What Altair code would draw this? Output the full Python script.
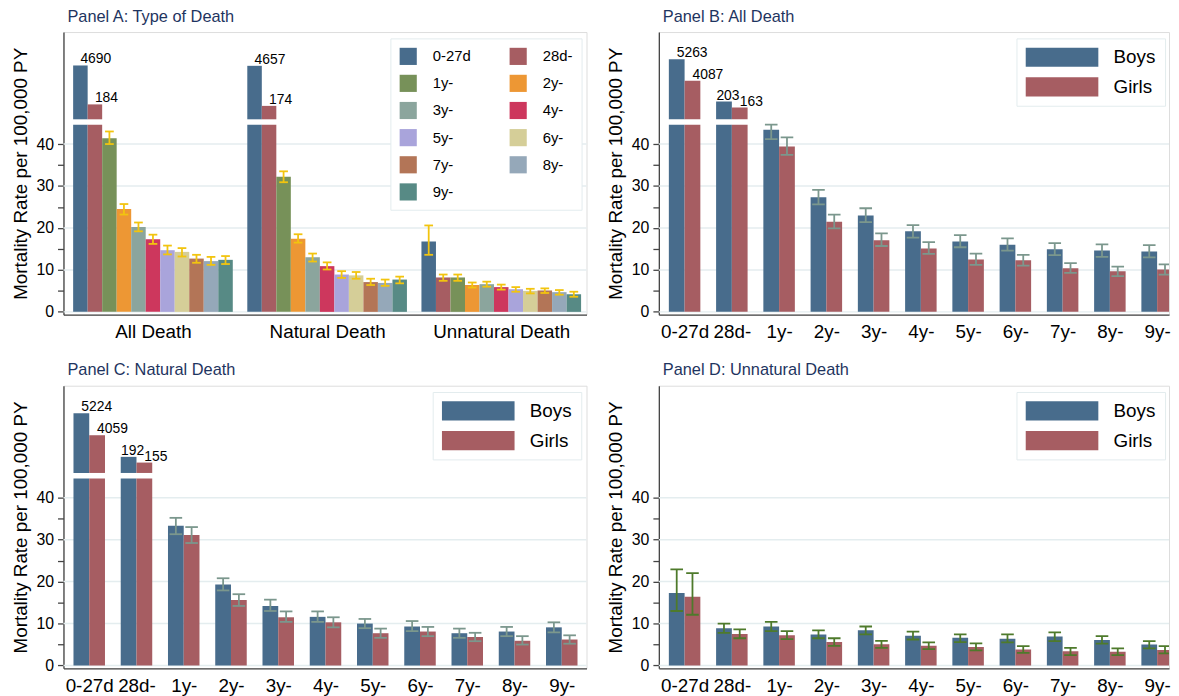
import json
import altair as alt
import pandas as pd

FONT = "Liberation Sans"

# ---------------- data ----------------
ages = ["0-27d", "28d-", "1y-", "2y-", "3y-", "4y-", "5y-", "6y-", "7y-", "8y-", "9y-"]
death_types = ["All Death", "Natural Death", "Unnatural Death"]
age_colors = ["#486c8c", "#a65d62", "#779159", "#ed9734", "#8ba59d", "#cd375d",
              "#a9a4db", "#d5ce98", "#b37557", "#95a8b9", "#578a85"]
sexes = ["Boys", "Girls"]
sex_colors = ["#486c8c", "#a65d62"]

# Panel A: type of death by age group
a_all = [4690, 184, 41.4, 24.5, 20.2, 17.3, 14.7, 14.3, 12.7, 12.1, 12.4]
a_all_lo = [None, None, 40.0, 23.2, 19.2, 16.2, 13.7, 13.2, 11.7, 11.2, 11.4]
a_all_hi = [None, None, 43.0, 25.7, 21.3, 18.4, 15.8, 15.2, 13.6, 13.1, 13.3]
a_nat = [4657, 174, 32.2, 17.4, 13.0, 10.9, 8.9, 8.7, 7.1, 6.9, 7.7]
a_nat_lo = [None, None, 30.9, 16.5, 12.0, 10.1, 8.1, 7.9, 6.4, 6.2, 6.8]
a_nat_hi = [None, None, 33.5, 18.5, 13.9, 11.8, 9.7, 9.5, 7.9, 7.7, 8.4]
a_unn = [16.8, 8.2, 8.2, 6.4, 6.6, 5.9, 5.4, 5.0, 5.1, 4.7, 4.2]
a_unn_lo = [13.6, 7.4, 7.4, 5.8, 6.0, 5.3, 4.8, 4.4, 4.5, 4.1, 3.6]
a_unn_hi = [20.6, 8.9, 8.9, 7.0, 7.2, 6.5, 5.9, 5.5, 5.6, 5.2, 4.8]

# Panel B: all death by sex
b_boys = [5263, 203, 43.4, 27.3, 23.0, 19.2, 16.8, 16.0, 14.9, 14.6, 14.4]
b_boys_lo = [None, None, 41.2, 25.6, 21.4, 17.7, 15.4, 14.6, 13.5, 13.1, 13.0]
b_boys_hi = [None, None, 45.6, 29.1, 24.7, 20.7, 18.3, 17.5, 16.4, 16.1, 15.9]
b_girls = [4087, 163, 39.4, 21.5, 17.1, 15.1, 12.5, 12.3, 10.4, 9.7, 10.1]
b_girls_lo = [None, None, 37.4, 19.9, 15.7, 13.8, 11.2, 11.0, 9.3, 8.5, 8.9]
b_girls_hi = [None, None, 41.6, 23.2, 18.7, 16.6, 13.9, 13.6, 11.6, 10.8, 11.3]

# Panel C: natural death by sex
c_boys = [5224, 192, 33.3, 19.3, 14.2, 11.6, 10.0, 9.3, 7.7, 8.1, 9.1]
c_boys_lo = [None, None, 31.3, 17.9, 13.0, 10.4, 8.9, 8.2, 6.6, 7.0, 7.9]
c_boys_hi = [None, None, 35.2, 20.8, 15.7, 12.9, 11.1, 10.6, 8.8, 9.2, 10.3]
c_girls = [4059, 155, 31.1, 15.6, 11.5, 10.3, 7.7, 8.1, 6.8, 5.9, 6.2]
c_girls_lo = [None, None, 29.2, 14.2, 10.4, 9.1, 6.6, 7.0, 5.8, 5.0, 5.2]
c_girls_hi = [None, None, 33.0, 17.0, 12.9, 11.5, 8.8, 9.2, 7.8, 7.0, 7.2]

# Panel D: unnatural death by sex
d_boys = [17.3, 8.9, 9.3, 7.4, 8.4, 7.1, 6.6, 6.4, 6.9, 6.1, 5.0]
d_boys_lo = [13.0, 7.8, 8.2, 6.5, 7.4, 6.2, 5.6, 5.5, 5.8, 5.2, 4.1]
d_boys_hi = [22.9, 10.0, 10.4, 8.4, 9.3, 8.1, 7.4, 7.4, 7.9, 7.0, 5.8]
d_girls = [16.4, 7.5, 7.2, 5.6, 5.1, 4.7, 4.4, 3.8, 3.4, 3.3, 3.7]
d_girls_lo = [12.1, 6.5, 6.3, 4.7, 4.2, 3.9, 3.6, 3.0, 2.5, 2.5, 2.9]
d_girls_hi = [22.0, 8.6, 8.2, 6.5, 5.9, 5.5, 5.3, 4.6, 4.2, 4.1, 4.6]

grid_values = [0, 10, 20, 30, 40]
tick_values = [0, 5, 10, 15, 20, 25, 30, 35, 40]

# ---------------- broken y axis (piecewise linear scale) ----------------
BREAK_LO, BREAK_HI = 44.6, 100
y_domain = [-0.66, 44.6, 100, 160, 205, 4000, 4600, 5300, 7000]
y_display = [-0.66, 44.6, 45.9, 48.6, 50.2, 54.5, 58.5, 60.3, 66.7]
PX = 4.235
H = (y_display[-1] - y_display[0]) * PX
y_range = [(y_display[-1] - d) * PX for d in y_display]
yscale = alt.Scale(domain=y_domain, range=y_range, nice=False, zero=False)

y_axis = alt.Axis(values=tick_values,
                  labelExpr="datum.value % 10 === 0 ? datum.label : ''",
                  grid=False, title="Mortality Rate per 100,000 PY",
                  titleFont=FONT, titleFontSize=19, titleFontWeight="normal",
                  titleColor="black", titlePadding=6,
                  labelFont=FONT, labelFontSize=16, labelColor="black",
                  labelPadding=4, tickSize=6, tickColor="#444",
                  tickWidth=1.3, domainColor="#444", domainWidth=1.3)


def x_axis(values, expr):
    return alt.Axis(values=values, labelExpr=expr, ticks=False, grid=False,
                    title=None, labelFont=FONT, labelFontSize=19,
                    labelColor="black", labelPadding=8, labelOverlap=False,
                    labelFlush=False, domainColor="#444", domainWidth=1.3)


def build_a():
    rows = []
    series = [(a_all, a_all_lo, a_all_hi), (a_nat, a_nat_lo, a_nat_hi),
              (a_unn, a_unn_lo, a_unn_hi)]
    for g, (vals, los, his) in enumerate(series):
        for j, age in enumerate(ages):
            rows.append(dict(g=g, j=j, age=age, value=vals[j], lo=los[j], hi=his[j]))
    return pd.DataFrame(rows)


def build_sex(boys, boys_lo, boys_hi, girls, girls_lo, girls_hi):
    rows = []
    for g, age in enumerate(ages):
        rows.append(dict(g=g, s=0, sex="Boys", value=boys[g], lo=boys_lo[g], hi=boys_hi[g]))
        rows.append(dict(g=g, s=1, sex="Girls", value=girls[g], lo=girls_lo[g], hi=girls_hi[g]))
    return pd.DataFrame(rows)


def panel(df, pos_expr, lab_expr, title, width, xdom, xax, color, err_color, cap_half, clip):
    xs = alt.Scale(domain=xdom, nice=False, zero=False)

    def X(f):
        return alt.X(f, type="quantitative", scale=xs, axis=xax)

    def Y(f):
        return alt.Y(f, type="quantitative", scale=yscale, axis=y_axis)

    base = alt.Chart(df).transform_calculate(
        pos=pos_expr).transform_calculate(
        x0="datum.pos - 0.5", x1="datum.pos + 0.5",
        c0=f"datum.pos - {cap_half}", c1=f"datum.pos + {cap_half}",
        lx=lab_expr,
        zero="0", lowtop=f"min(datum.value, {BREAK_LO})", ub=f"{BREAK_HI}",
        lab="format(datum.value, 'd')")

    grid = alt.Chart(pd.DataFrame({"gv": grid_values})).mark_rule(
        color="#e4edef", strokeWidth=1.5).encode(y=Y("gv"))

    lower = base.mark_rect(clip=clip).encode(
        x=X("x0"), x2="x1", y=Y("zero"), y2="lowtop:Q", color=color)
    upper = base.transform_filter(f"datum.value > {BREAK_HI}").mark_rect(clip=clip).encode(
        x=X("x0"), x2="x1", y=Y("ub"), y2="value:Q", color=color)

    err = base.transform_filter("isValid(datum.lo)")
    vline = err.mark_rule(color=err_color, strokeWidth=1.8, clip=clip).encode(
        x=X("pos"), y=Y("lo"), y2="hi:Q")
    cap_lo = err.mark_rule(color=err_color, strokeWidth=1.8, clip=clip).encode(
        x=X("c0"), x2="c1", y=Y("lo"))
    cap_hi = err.mark_rule(color=err_color, strokeWidth=1.8, clip=clip).encode(
        x=X("c0"), x2="c1", y=Y("hi"))

    labels = base.transform_filter(f"datum.value > {BREAK_HI}").mark_text(
        align="left", baseline="alphabetic", dx=0, dy=-2, font=FONT,
        fontSize=14, color="black").encode(x=X("lx"), y=Y("value"), text="lab:N")

    return alt.layer(grid, lower, upper, vline, cap_lo, cap_hi, labels).properties(
        width=width, height=H,
        title=alt.TitleParams(title, anchor="start", frame="group", dx=4, offset=7,
                              font=FONT, fontSize=16.5, fontWeight="normal",
                              color="#1e3460"))


# ---------------- legends ----------------
def age_legend():
    return alt.Legend(title=None, orient="none", legendX=330, legendY=6.4, columns=2,
                      direction="horizontal",
                      symbolType="square", symbolSize=300, symbolStrokeWidth=0,
                      symbolOpacity=1, labelFont=FONT, labelFontSize=15,
                      labelColor="black", labelOffset=15.7, padding=9,
                      columnPadding=38, rowPadding=9.4, fillColor="white",
                      strokeColor="#e3ecee", cornerRadius=0)


def sex_legend(lx):
    return alt.Legend(title=None, orient="none", legendX=lx, legendY=6.4,
                      direction="vertical",
                      symbolType="M-3.8,-1H3.8V1H-3.8Z", symbolSize=372,
                      symbolStrokeWidth=0, symbolOpacity=1, symbolOffset=27,
                      labelOffset=42, labelFont=FONT, labelFontSize=19,
                      labelColor="black", padding=9, rowPadding=10,
                      fillColor="white", strokeColor="#e3ecee", cornerRadius=0)


U_A = 14.65
U_S = 15.9
W_L = 528
W_R = 515
xdom_a = [-1.166, -1.166 + W_L / U_A]
xdom_l = [-1.635, -1.635 + W_L / U_S]
xdom_r = [-1.635, -1.635 + W_R / U_S]

a_centers = [g * 12 + 5 for g in range(len(death_types))]
a_expr = f"{json.dumps(death_types)}[round((datum.value - 5) / 12)]"
s_centers = [g * 3 for g in range(len(ages))]
s_expr = f"{json.dumps(ages)}[round(datum.value / 3)]"

color_a = alt.Color("age:N", scale=alt.Scale(domain=ages, range=age_colors), legend=age_legend())


def color_s(lx):
    return alt.Color("sex:N", scale=alt.Scale(domain=sexes, range=sex_colors), legend=sex_legend(lx))


S_POS = "datum.g * 3 + (datum.s == 0 ? -0.5 : 0.5)"
# the 28d- boys value label is nudged left so it clears its neighbour
S_LAB = "datum.pos - ((datum.g == 1 && datum.s == 0) ? 0.48 : 0)"

pA = panel(build_a(), "datum.g * 12 + datum.j", "datum.pos", "Panel A: Type of Death", W_L, xdom_a,
           x_axis(a_centers, a_expr), color_a, "#f2c40f", 0.3, False)
pB = panel(build_sex(b_boys, b_boys_lo, b_boys_hi, b_girls, b_girls_lo, b_girls_hi),
           S_POS, S_LAB, "Panel B: All Death", W_R, xdom_r,
           x_axis(s_centers, s_expr), color_s(361), "#7b978d", 0.4, True)
pC = panel(build_sex(c_boys, c_boys_lo, c_boys_hi, c_girls, c_girls_lo, c_girls_hi),
           S_POS, S_LAB, "Panel C: Natural Death", W_L, xdom_l,
           x_axis(s_centers, s_expr), color_s(372.7), "#7b978d", 0.4, False)
pD = panel(build_sex(d_boys, d_boys_lo, d_boys_hi, d_girls, d_girls_lo, d_girls_hi),
           S_POS, S_LAB, "Panel D: Unnatural Death", W_R, xdom_r,
           x_axis(s_centers, s_expr), color_s(361), "#4e7a2b", 0.4, True)

row1 = alt.hconcat(pA, pB, spacing=17).resolve_scale(color="independent")
row2 = alt.hconcat(pC, pD, spacing=17).resolve_scale(color="independent")
chart = alt.vconcat(row1, row2, spacing=20).resolve_scale(color="independent").properties(
    padding={"left": 2, "top": -3, "right": 0, "bottom": 0}, background="white"
).configure_view(strokeWidth=0).configure(font=FONT)

chart.save("out.html", embed_options={"renderer": "svg", "actions": False})
